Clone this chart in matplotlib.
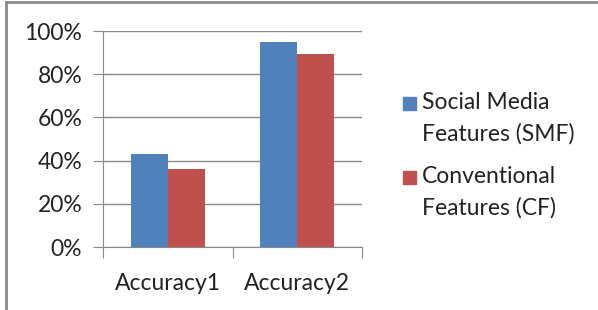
import matplotlib

matplotlib.use('agg')
import matplotlib.pyplot as plt
from matplotlib.patches import Rectangle
from matplotlib.lines import Line2D

categories = ['Accuracy1', 'Accuracy2']
smf = [0.43, 0.95]
cf = [0.36, 0.895]
series_labels = ['Social Media\nFeatures (SMF)', 'Conventional\nFeatures (CF)']
colors = ['#4F81BD', '#C0504D']
yticks = [0, 0.2, 0.4, 0.6, 0.8, 1.0]

plt.rcParams['font.family'] = ['Lato', 'DejaVu Sans']
FS = 16.5

fig = plt.figure(figsize=(5.98, 3.10), dpi=100)
ax = fig.add_axes([103 / 598, 63 / 310, 259 / 598, 216 / 310])

w = 1 / 3.5
x = list(range(len(categories)))
ax.bar([i - w / 2 for i in x], smf, w, color=colors[0], zorder=3)
ax.bar([i + w / 2 for i in x], cf, w, color=colors[1], zorder=3)

ax.set_xlim(-0.5, len(categories) - 0.5)
ax.set_ylim(0, 1)
ax.set_yticks(yticks)
ax.set_yticklabels(['{:.0f}%'.format(v * 100) for v in yticks], fontsize=FS, color='#222222')
ax.tick_params(axis='y', length=7, color='#888888', pad=8)
ax.yaxis.grid(True, color='#888888', linewidth=1, zorder=0)

ax.set_xticks([-0.5, 0.5, 1.5])
ax.set_xticklabels([])
ax.set_xticks(x, minor=True)
ax.set_xticklabels(categories, minor=True, fontsize=FS, color='#222222')
ax.tick_params(axis='x', which='major', length=8, color='#888888')
ax.tick_params(axis='x', which='minor', length=0, pad=19)

for s in ['top', 'right']:
    ax.spines[s].set_visible(False)
for s in ['left', 'bottom']:
    ax.spines[s].set_color('#888888')

# legend, drawn by hand so the swatch sits on the first line
for k, (lab, col) in enumerate(zip(series_labels, colors)):
    ytop = 1 - (97 + 74 * k) / 310
    fig.patches.append(Rectangle((403 / 598, ytop - 13 / 310), 13 / 598, 13 / 310,
                                 transform=fig.transFigure, color=col))
    fig.text(422 / 598, ytop + 5 / 310, lab, fontsize=FS, color='#222222',
             va='top', ha='left', linespacing=1.6)

# outer frame (top and left edges only)
fig.add_artist(Line2D([6 / 598, 1], [1 - 2 / 310] * 2, color='#888888', lw=2))
fig.add_artist(Line2D([6 / 598] * 2, [0, 1 - 2 / 310], color='#888888', lw=2))

plt.savefig('out.png', dpi=100)
